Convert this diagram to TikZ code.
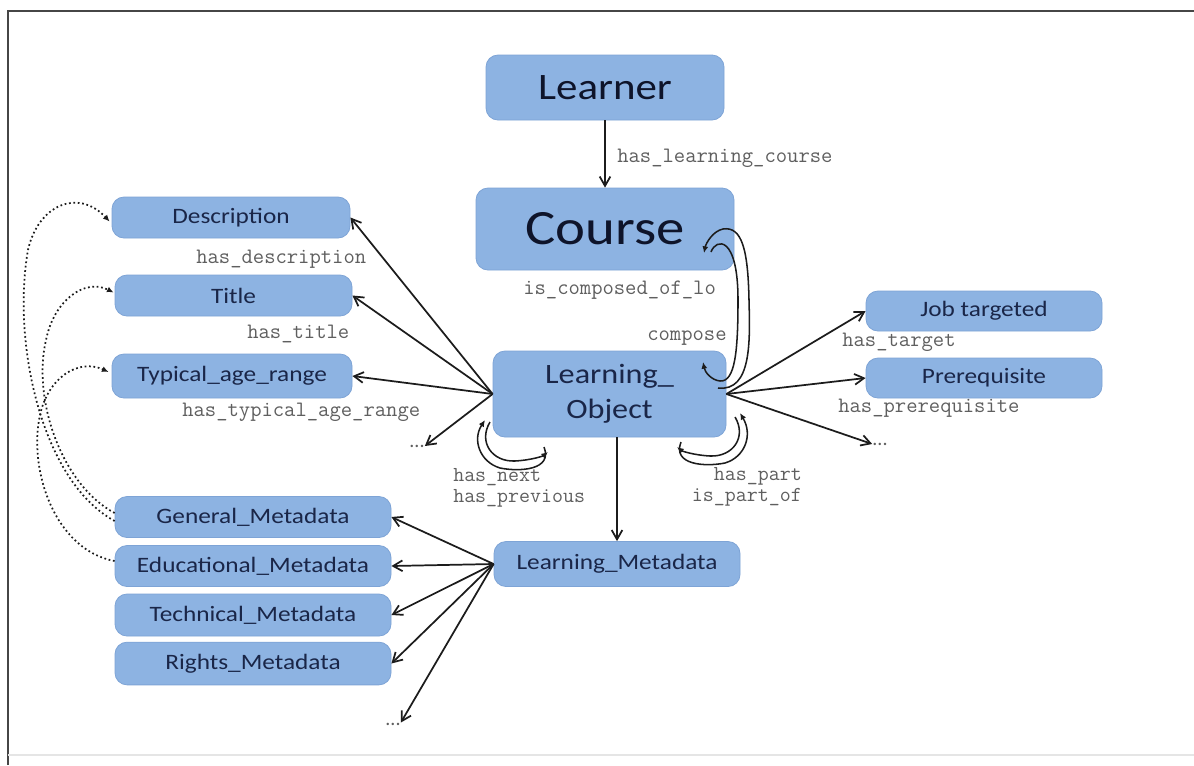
\documentclass[tikz,border=0pt]{standalone}
\usepackage{fontspec}
\usepackage{graphicx}
\setsansfont{Carlito}
\usetikzlibrary{arrows.meta,calc}
\definecolor{boxfill}{RGB}{141,179,226}
\definecolor{boxedge}{RGB}{126,164,214}
\definecolor{boxtext}{RGB}{26,38,72}
\definecolor{bigtext}{RGB}{14,20,42}
\definecolor{labgray}{RGB}{95,95,95}
\definecolor{linkcol}{RGB}{28,28,28}
\definecolor{framecol}{RGB}{70,70,70}
% slightly widened box lettering
\newcommand{\sx}[1]{\scalebox{1.15}[1]{#1}}
\begin{document}
\begin{tikzpicture}[x=0.75pt,y=-0.75pt,
  cbox/.style={rectangle, rounded corners=9pt, fill=boxfill, draw=boxedge, line width=0.6pt,
    inner sep=0pt, text=boxtext, font=\sffamily\fontsize{16.5}{18}\selectfont},
  lab/.style={inner sep=0pt, text=labgray, font=\ttfamily\fontsize{16.5}{16.5}\selectfont},
  lab2/.style={inner sep=0pt, text=labgray, font=\ttfamily\fontsize{16}{16}\selectfont},
  ell/.style={inner sep=0pt, text=labgray, font=\sffamily\fontsize{15}{15}\selectfont},
  link/.style={draw=linkcol, line width=1.3pt, -{Straight Barb[length=7pt,width=8pt]}},
  selfarc/.style={draw=linkcol, line width=1.15pt, -{Latex[length=5pt,width=4.5pt]}},
  hint/.style={draw=linkcol, line width=1.3pt, dotted, -{Latex[length=5pt,width=4.5pt]}}
]
\useasboundingbox (0,0) rectangle (1194,765);
\fill[white] (0,0) rectangle (1194,765);

% frame
\draw[framecol, line width=1.5pt] (8,765) -- (8,11) -- (1194,11);
\draw[black!10, line width=0.8pt] (8,755) -- (1194,755);

% boxes
\node[cbox, minimum width=178.5pt, minimum height=48.75pt, text=bigtext,
      font=\sffamily\fontsize{28}{30}\selectfont] (learner) at (605,87.5) {\sx{Learner}};
\node[cbox, minimum width=193.5pt, minimum height=61.5pt, text=bigtext,
      font=\sffamily\fontsize{37}{40}\selectfont] (course) at (605,229) {\sx{Course}};
\node[cbox, minimum width=174.75pt, minimum height=64.5pt, align=center,
      font=\sffamily\fontsize{21}{26}\selectfont] (lo) at (609.5,394) {\sx{Learning\_}\\\sx{Object}};

\node[cbox, minimum width=178.5pt, minimum height=30.75pt] (desc) at (231,217.5) {\sx{Description}};
\node[cbox, minimum width=177.75pt, minimum height=30.75pt] (title) at (233.5,295.5) {\sx{Title}};
\node[cbox, minimum width=180pt, minimum height=33pt] (typical) at (232,376) {\sx{Typical\_age\_range}};

\node[cbox, minimum width=177pt, minimum height=30pt] (job) at (984,311) {\sx{Job targeted}};
\node[cbox, minimum width=177pt, minimum height=30pt] (prereq) at (984,378) {\sx{Prerequisite}};

\node[cbox, minimum width=184.5pt, minimum height=33.75pt] (lm) at (617,564) {\sx{Learning\_Metadata}};

\node[cbox, minimum width=207pt, minimum height=30.75pt] (gen) at (253,517) {\sx{General\_Metadata}};
\node[cbox, minimum width=207pt, minimum height=30.75pt] (edu) at (253,566) {\sx{Educational\_Metadata}};
\node[cbox, minimum width=207pt, minimum height=31.5pt] (tech) at (253,615) {\sx{Technical\_Metadata}};
\node[cbox, minimum width=207pt, minimum height=32pt] (rights) at (253,663.5) {\sx{Rights\_Metadata}};

% open-ended continuations
\node[ell] (dl) at (417,446) {...};
\node[ell] (dr) at (880,444) {...};
\node[ell] (db) at (393,724) {...};

% relation labels
\node[lab, anchor=west] at (617,158) {has\_learning\_course};
\node[lab, anchor=west] at (196,259) {has\_description};
\node[lab, anchor=west] at (247,334) {has\_title};
\node[lab, anchor=west] at (182,412) {has\_typical\_age\_range};
\node[lab, anchor=west] at (523,290) {is\_composed\_of\_lo};
\node[lab, anchor=west] at (647,338) {compose};
\node[lab2, anchor=base west] at (453,481) {has\_next};
\node[lab2, anchor=base west] at (453,502) {has\_previous};
\node[lab2, anchor=base east] at (802,480) {has\_part};
\node[lab2, anchor=base east] at (802,501) {is\_part\_of};
\node[lab, anchor=west] at (842,342) {has\_target};
\node[lab, anchor=west] at (838,408) {has\_prerequisite};

% main relations
\draw[link] (learner.south) -- (course.north);
\draw[link] (lo.west) -- (desc.east);
\draw[link] (lo.west) -- (title.east);
\draw[link] (lo.west) -- (typical.east);
\draw[link] (lo.west) -- (dl.east);
\draw[link] (lo.east) -- (job.west);
\draw[link] (lo.east) -- (prereq.west);
\draw[link] (lo.east) -- (dr.west);
\draw[link] (lo.south -| lm.north) -- (lm.north);
\draw[link] (lm.west) -- (gen.east);
\draw[link] (lm.west) -- (edu.east);
\draw[link] (lm.west) -- (tech.east);
\draw[link] (lm.west) -- (rights.east);
\draw[link] (lm.west) -- (db.north east);

% course <-> learning object
\coordinate (cA1) at (711,252);
\coordinate (cA2) at (703,362);
\coordinate (cB1) at (718,388);
\coordinate (cB2) at (704,253);
\draw[selfarc] (cA1) .. controls (716,238) and (738,235) .. (738,300)
  .. controls (738,352) and (735,382) .. (720,381)
  .. controls (711,380) and (705,372) .. (cA2);
\draw[selfarc] (cB1) .. controls (752,392) and (750,340) .. (749,300)
  .. controls (748,250) and (742,226) .. (723,229)
  .. controls (713,231) and (706,243) .. (cB2);

% next / previous
\coordinate (nL1) at (490,422);
\coordinate (nL2) at (548,452);
\coordinate (pL1) at (544,447);
\coordinate (pL2) at (485,420);
\draw[selfarc] (nL1) .. controls (478,442) and (492,462) .. (515,461)
  .. controls (532,460) and (543,456) .. (nL2);
\draw[selfarc] (pL1) .. controls (553,470) and (520,472) .. (500,468)
  .. controls (480,462) and (472,440) .. (pL2);

% part / part of
\coordinate (nR1) at (735,417);
\coordinate (nR2) at (677,447);
\coordinate (pR1) at (681,442);
\coordinate (pR2) at (740,413);
\draw[selfarc] (nR1) .. controls (747,437) and (733,457) .. (710,456)
  .. controls (693,455) and (682,451) .. (nR2);
\draw[selfarc] (pR1) .. controls (672,465) and (705,467) .. (725,463)
  .. controls (745,457) and (753,435) .. (pR2);

% metadata hints
\draw[hint] ($(gen.west)+(0,4)$) .. controls (40,480) and (12,340) .. (28,250)
  .. controls (38,205) and (78,188) .. ($(desc.west)+(-2,4)$);
\draw[hint] ($(gen.west)+(0,-4)$) .. controls (62,485) and (32,400) .. (46,340)
  .. controls (54,300) and (85,278) .. ($(title.west)+(-1,-3)$);
\draw[hint] ($(edu.west)+(0,-5)$) .. controls (55,550) and (28,470) .. (40,415)
  .. controls (48,378) and (78,358) .. ($(typical.west)+(-3,-4)$);
\end{tikzpicture}
\end{document}
